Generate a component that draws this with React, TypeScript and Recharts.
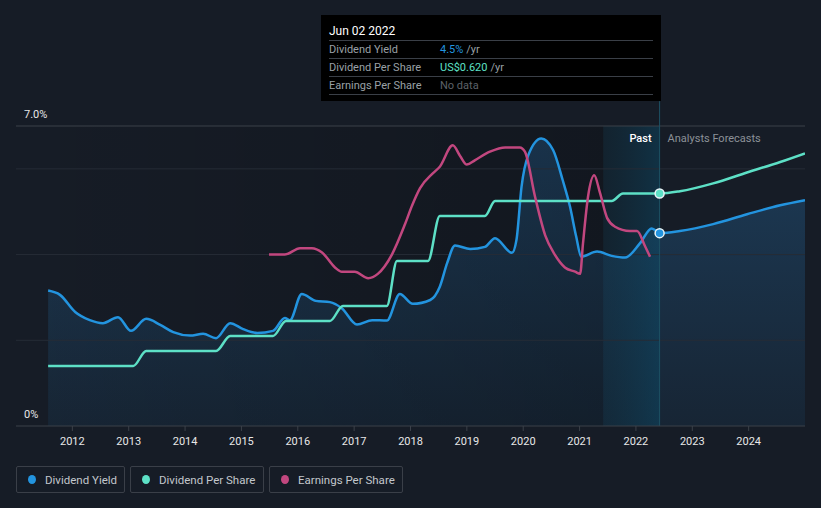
import React from 'react';
import {
  ComposedChart,
  Area,
  Line,
  XAxis,
  YAxis,
  ReferenceLine,
  ReferenceArea,
  ReferenceDot,
} from 'recharts';

// decimal years on the x axis
const yearTicks = [2012, 2013, 2014, 2015, 2016, 2017, 2018, 2019, 2020, 2021, 2022, 2023, 2024];

// Dividend yield (%)
const yieldDates = [
  2011.57, 2011.78, 2012.05, 2012.31, 2012.54, 2012.81, 2013.04, 2013.31, 2013.56, 2013.79,
  2014.09, 2014.32, 2014.55, 2014.8, 2015.03, 2015.28, 2015.56, 2015.77, 2015.86, 2016.07,
  2016.32, 2016.57, 2016.78, 2017.05, 2017.32, 2017.58, 2017.81, 2018.04, 2018.35, 2018.52,
  2018.65, 2018.79, 2019.06, 2019.32, 2019.5, 2019.8, 2019.88, 2019.97, 2020.09, 2020.32,
  2020.53, 2020.7, 2020.83, 2020.94, 2021.03, 2021.31, 2021.57, 2021.81, 2022.07, 2022.28,
  2022.43, 2022.78, 2023.37, 2023.97, 2024.56, 2025.0,
];
const yieldValues = [
  3.16, 3.06, 2.66, 2.47, 2.4, 2.54, 2.22, 2.5, 2.36, 2.19,
  2.11, 2.15, 2.05, 2.4, 2.26, 2.17, 2.22, 2.52, 2.47, 3.08,
  2.92, 2.89, 2.75, 2.37, 2.47, 2.46, 3.08, 2.85, 2.94, 3.25,
  3.8, 4.21, 4.13, 4.18, 4.38, 4.04, 4.34, 5.58, 6.32, 6.71,
  6.44, 5.74, 5.12, 4.42, 3.95, 4.07, 3.97, 3.93, 4.26, 4.61,
  4.5, 4.55, 4.71, 4.94, 5.15, 5.27,
];

// Dividend per share (US$)
const dpsDates = [
  2011.57, 2013.08, 2013.31, 2014.55, 2014.8, 2015.56, 2015.79, 2016.57, 2016.8, 2017.58,
  2017.76, 2018.31, 2018.52, 2019.32, 2019.5, 2021.57, 2021.77, 2022.43, 2022.78, 2023.37,
  2023.97, 2024.56, 2025.0,
];
const dpsValues = [
  0.16, 0.16, 0.2, 0.2, 0.24, 0.24, 0.28, 0.28, 0.32, 0.32,
  0.44, 0.44, 0.56, 0.56, 0.6, 0.6, 0.62, 0.62, 0.626, 0.647,
  0.676, 0.704, 0.727,
];

// Earnings per share (US$)
const epsDates = [
  2015.49, 2015.77, 2016.04, 2016.25, 2016.43, 2016.66, 2016.78, 2017.01, 2017.25, 2017.42,
  2017.67, 2017.9, 2018.03, 2018.17, 2018.4, 2018.52, 2018.75, 2018.88, 2019.0, 2019.14,
  2019.41, 2019.68, 2019.94, 2020.03, 2020.21, 2020.39, 2020.56, 2020.74, 2020.92, 2021.01,
  2021.06, 2021.15, 2021.26, 2021.36, 2021.49, 2021.63, 2021.89, 2022.02, 2022.16, 2022.25,
];
const epsValues = [
  0.8, 0.8, 0.83, 0.83, 0.81, 0.74, 0.72, 0.72, 0.69, 0.71,
  0.8, 0.94, 1.03, 1.11, 1.18, 1.21, 1.31, 1.26, 1.22, 1.24,
  1.28, 1.3, 1.3, 1.28, 1.07, 0.89, 0.8, 0.74, 0.72, 0.71,
  0.85, 1.07, 1.17, 1.09, 0.97, 0.93, 0.91, 0.91, 0.84, 0.79,
];

const gridLevels = [2, 4, 6];
const pastStart = 2021.42;
const today = 2022.42;

const BLUE = '#2394df';
const TEAL = '#5de0c6';
const PINK = '#c2477f';
const BG = '#161c26';
const FONT = 'Roboto, Arial, sans-serif';

const yieldData = yieldDates.map((t, i) => ({ t, v: yieldValues[i] }));
const dpsData = dpsDates.map((t, i) => ({ t, v: dpsValues[i] }));
const epsData = epsDates.map((t, i) => ({ t, v: epsValues[i] }));

const legendItems = [
  { name: 'Dividend Yield', color: BLUE, left: 16, width: 109 },
  { name: 'Dividend Per Share', color: TEAL, left: 130, width: 134 },
  { name: 'Earnings Per Share', color: PINK, left: 269, width: 134 },
];

const tooltipRows = [
  { label: 'Dividend Yield', value: '4.5%', color: BLUE, unit: '/yr' },
  { label: 'Dividend Per Share', value: 'US$0.620', color: TEAL, unit: '/yr' },
  { label: 'Earnings Per Share', value: 'No data', color: '#5d6269', unit: '' },
];

const App = () => {
  return (
    <div
      style={{
        position: 'fixed',
        left: 0,
        top: 0,
        width: 821,
        height: 508,
        background: BG,
        fontFamily: FONT,
        overflow: 'hidden',
      }}
    >
      <ComposedChart
        width={821}
        height={508}
        margin={{ top: 126, right: 16, left: 16, bottom: 52 }}
      >
        <defs>
          <linearGradient id="yieldFill" x1="0" y1="0" x2="0" y2="1">
            <stop offset="0%" stopColor="#1d3d5a" stopOpacity={0.95} />
            <stop offset="100%" stopColor="#172636" stopOpacity={0.9} />
          </linearGradient>
          <linearGradient id="pastShade" x1="0" y1="0" x2="1" y2="0">
            <stop offset="0%" stopColor="#000000" stopOpacity={0} />
            <stop offset="100%" stopColor="#000000" stopOpacity={0.35} />
          </linearGradient>
          <linearGradient id="bandShade" x1="0" y1="0" x2="1" y2="0">
            <stop offset="0%" stopColor="#0b3446" stopOpacity={0.55} />
            <stop offset="100%" stopColor="#0a4c6a" stopOpacity={0.9} />
          </linearGradient>
        </defs>

        <XAxis
          type="number"
          dataKey="t"
          domain={[2011, 2025]}
          ticks={yearTicks}
          allowDataOverflow
          height={30}
          axisLine={{ stroke: '#3b4049' }}
          tickLine={{ stroke: '#3b4049' }}
          tickSize={5}
          tick={{ fill: '#e8e8e8', fontSize: 11, fontFamily: FONT }}
          tickMargin={6}
        />
        <YAxis yAxisId="yield" domain={[0, 7]} hide allowDataOverflow />
        <YAxis yAxisId="dps" domain={[0, 0.8]} hide allowDataOverflow />
        <YAxis yAxisId="eps" domain={[0, 1.4]} hide allowDataOverflow />

        {gridLevels.map((g) => (
          <ReferenceLine key={g} yAxisId="yield" y={g} stroke="#262c36" strokeWidth={1} />
        ))}

        <Area
          yAxisId="yield"
          data={yieldData}
          dataKey="v"
          type="monotone"
          stroke="none"
          fill="url(#yieldFill)"
          fillOpacity={1}
          baseValue={0}
          isAnimationActive={false}
          dot={false}
          activeDot={false}
        />

        <ReferenceArea yAxisId="yield" x1={2011} x2={pastStart} y1={0} y2={7} fill="url(#pastShade)" stroke="none" />
        <ReferenceArea yAxisId="yield" x1={pastStart} x2={today} y1={0} y2={7} fill="url(#bandShade)" stroke="none" />

        <ReferenceLine
          yAxisId="yield"
          y={7}
          stroke="#3b4049"
          label={(p: any) => (
            <text x={p.viewBox.x + 8} y={p.viewBox.y - 8} fill="#e8e8e8" fontSize={11} fontFamily={FONT}>
              7.0%
            </text>
          )}
        />
        <ReferenceLine
          yAxisId="yield"
          y={0}
          stroke="none"
          label={(p: any) => (
            <text x={p.viewBox.x + 8} y={p.viewBox.y - 8} fill="#e8e8e8" fontSize={11} fontFamily={FONT}>
              0%
            </text>
          )}
        />
        <ReferenceLine
          yAxisId="yield"
          ifOverflow="visible"
          segment={[
            { x: today, y: 0 },
            { x: today, y: 7.58 },
          ]}
          stroke="#1d5164"
          strokeWidth={1}
          label={(p: any) => {
            const vb = p.viewBox;
            return (
              <g fontFamily={FONT} fontSize={11}>
                <text x={vb.x - 8} y={142} textAnchor="end" fill="#ffffff" fontWeight={500}>
                  Past
                </text>
                <text x={vb.x + 8} y={142} textAnchor="start" fill="#8c9198">
                  Analysts Forecasts
                </text>
              </g>
            );
          }}
        />

        <Line
          yAxisId="yield"
          data={yieldData}
          dataKey="v"
          type="monotone"
          stroke={BLUE}
          strokeWidth={2.5}
          dot={false}
          activeDot={false}
          isAnimationActive={false}
        />
        <Line
          yAxisId="dps"
          data={dpsData}
          dataKey="v"
          type="monotone"
          stroke={TEAL}
          strokeWidth={2.5}
          dot={false}
          activeDot={false}
          isAnimationActive={false}
        />
        <Line
          yAxisId="eps"
          data={epsData}
          dataKey="v"
          type="monotone"
          stroke={PINK}
          strokeWidth={2.5}
          dot={false}
          activeDot={false}
          isAnimationActive={false}
        />

        <ReferenceDot yAxisId="dps" x={today} y={0.62} r={4.5} fill={TEAL} stroke="#e8f4f8" strokeWidth={1.5} />
        <ReferenceDot yAxisId="yield" x={today} y={4.5} r={4.5} fill={BLUE} stroke="#e8f4f8" strokeWidth={1.5} />
      </ComposedChart>

      {/* tooltip box */}
      <div
        style={{
          position: 'absolute',
          left: 321,
          top: 15,
          width: 340,
          height: 86,
          background: '#000000',
          fontSize: 11,
          color: '#9aa0a6',
          boxSizing: 'border-box',
          padding: '0 8px',
        }}
      >
        <div style={{ color: '#ffffff', fontSize: 12, height: 25, lineHeight: '32px' }}>Jun 02 2022</div>
        {tooltipRows.map((r) => (
          <div
            key={r.label}
            style={{
              display: 'flex',
              height: 17,
              lineHeight: '18px',
              borderTop: '1px solid #3a3f47',
            }}
          >
            <span style={{ width: 111 }}>{r.label}</span>
            <span style={{ color: r.color }}>{r.value}</span>
            {r.unit && <span style={{ marginLeft: 3 }}>{r.unit}</span>}
          </div>
        ))}
        <div style={{ borderTop: '1px solid #3a3f47' }} />
      </div>

      {/* legend */}
      {legendItems.map((it) => (
        <div
          key={it.name}
          style={{
            position: 'absolute',
            left: it.left,
            top: 466,
            width: it.width,
            height: 27,
            boxSizing: 'border-box',
            border: '1px solid #3a3f48',
            borderRadius: 2,
            display: 'flex',
            alignItems: 'center',
            paddingLeft: 11,
            fontSize: 11.5,
            color: '#c3c7cc',
          }}
        >
          <span
            style={{
              width: 8,
              height: 9,
              borderRadius: '50%',
              background: it.color,
              marginRight: 9,
            }}
          />
          {it.name}
        </div>
      ))}
    </div>
  );
};

export default App;
